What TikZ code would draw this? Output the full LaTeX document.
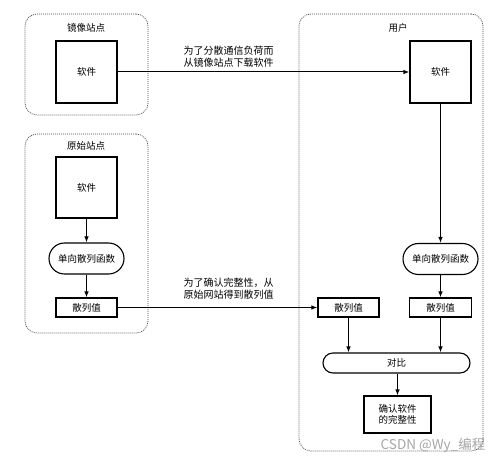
\documentclass[tikz,border=0pt]{standalone}
\usepackage{fontspec}
\setmainfont{Noto Sans CJK SC}
\usetikzlibrary{arrows.meta,shapes.misc}
\begin{document}
\begin{tikzpicture}[x=1pt,y=-1pt,
  font=\fontsize{9.5}{11.5}\selectfont,
  group/.style={draw=black!70, dash pattern=on 1pt off 1pt, rounded corners=12pt, line width=0.7pt, inner sep=0pt},
  box/.style={draw, line width=1.1pt, inner sep=0pt},
  pill/.style={draw, line width=1.1pt, rounded rectangle, inner sep=0pt},
  arr/.style={-{Latex[length=6pt,width=4.5pt]}, line width=1pt},
  lbl/.style={align=left, font=\fontsize{10}{11.5}\selectfont}
]
\useasboundingbox (0,0) rectangle (504,462);
% groups
\node[group, minimum width=123pt, minimum height=101pt] (gmirror) at (86.5,64.5) {};
\node[group, minimum width=123pt, minimum height=199pt] (gorig) at (86.5,233.5) {};
\node[group, minimum width=184pt, minimum height=437pt] (guser) at (391,232.5) {};
% titles
\node (tmirror) at (86,28) {镜像站点};
\node (torig) at (86,146) {原始站点};
\node (tuser) at (398,28) {用户};
% mirror
\node[box, minimum width=61pt, minimum height=62pt] (msw) at (86.5,72) {软件};
% user software
\node[box, minimum width=61pt, minimum height=62pt] (usw) at (440.5,72) {软件};
% original site
\node[box, minimum width=61pt, minimum height=61pt] (osw) at (86.5,187.5) {软件};
\node[pill, minimum width=75pt, minimum height=31pt] (ofn) at (86.5,258.5) {单向散列函数};
\node[box, minimum width=61pt, minimum height=19pt] (ohash) at (86.5,307.5) {散列值};
% user
\node[pill, minimum width=75pt, minimum height=31pt] (ufn) at (440.5,259) {单向散列函数};
\node[box, minimum width=62pt, minimum height=19pt] (urhash) at (440.5,307.5) {散列值};
\node[box, minimum width=61pt, minimum height=19pt] (ulhash) at (348.5,307.5) {散列值};
\node[pill, minimum width=147pt, minimum height=20pt] (cmp) at (396.5,363) {对比};
\node[box, minimum width=67pt, minimum height=37pt, align=center] (conf) at (397.5,414.5) {确认软件\\[-1pt]的完整性};
% labels
\node[lbl] (l1) at (228.5,56.5) {为了分散通信负荷而\\从镜像站点下载软件};
\node[lbl] (l2) at (228.5,288.5) {为了确认完整性，从\\原始网站得到散列值};
% arrows
\draw[arr] (msw.east) -- (usw.west);
\draw[arr] (osw.south) -- (ofn.north);
\draw[arr] (ofn.south) -- (ohash.north);
\draw[arr] (ohash.east) -- (ulhash.west);
\draw[arr] (usw.south) -- (ufn.north);
\draw[arr] (ufn.south) -- (urhash.north);
\draw[arr] (ulhash.south) -- (ulhash.south |- cmp.north);
\draw[arr] (urhash.south) -- (urhash.south |- cmp.north);
\draw[arr] (cmp.south -| conf.north) -- (conf.north);
% watermark
\node[text=black!35, font=\fontsize{13.5}{15}\selectfont] (wm) at (433,445) {CSDN @Wy\_编程};
\end{tikzpicture}
\end{document}
